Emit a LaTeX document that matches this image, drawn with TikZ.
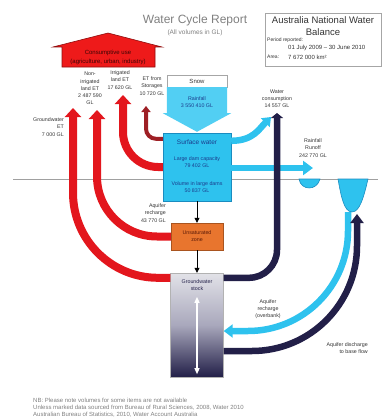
\documentclass[tikz,border=0pt]{standalone}
\usepackage{fontspec}
\setmainfont{Liberation Sans}
\usetikzlibrary{arrows.meta}
\definecolor{ink}{HTML}{333333}
\definecolor{greytxt}{HTML}{808080}
\definecolor{flowred}{HTML}{E3161D}
\definecolor{darkred}{HTML}{9E1F25}
\definecolor{housered}{HTML}{EE1A1A}
\definecolor{housedark}{HTML}{8E0E0E}
\definecolor{housetext}{HTML}{3D0505}
\definecolor{water}{HTML}{2EC2EE}
\definecolor{rainwater}{HTML}{52CFF3}
\definecolor{waterdark}{HTML}{1A8CC0}
\definecolor{wtext}{HTML}{1B3C8C}
\definecolor{navy}{HTML}{221F48}
\definecolor{gwtop}{HTML}{E2E2E8}
\definecolor{gwmid}{HTML}{A9A8BC}
\definecolor{unsat}{HTML}{E8752E}
\definecolor{unsatdark}{HTML}{A9541F}
\definecolor{unsattext}{HTML}{5A1A08}
\definecolor{ground}{HTML}{A0A0A0}

\begin{document}
\begin{tikzpicture}[x=1pt,y=-1pt,
    lbl/.style={font=\fontsize{5.3}{7.2}\selectfont,text=ink,align=center,inner sep=0pt},
    tank/.style={inner sep=0pt,align=center,font=\fontsize{5.3}{7.2}\selectfont},
    redflow/.style={line width=8pt,flowred,-{Triangle[width=16pt,length=9pt]}},
    navyflow/.style={line width=6.5pt,navy},
    waterflow/.style={line width=6.5pt,water},
    drop/.style={thick,black,-{Triangle[width=5pt,length=5pt]}}]
  \useasboundingbox (0,0) rectangle (382,420);

  \node[font=\fontsize{12}{14}\selectfont,text=greytxt] (title) at (195,20) {Water Cycle Report};
  \node[lbl,font=\fontsize{6.5}{8}\selectfont,text=greytxt] (units) at (195,33) {(All volumes in GL)};

  \node[draw=gray!70,line width=0.6pt,minimum width=116pt,minimum height=53pt] (info) at (323,39.5) {};
  \node[lbl,font=\fontsize{9.5}{11.5}\selectfont] (infohead) at (323,26) {Australia National Water\\Balance};
  \node[lbl,anchor=west,font=\fontsize{5}{6}\selectfont] (period) at (267,40) {Period reported:};
  \node[lbl,anchor=west,font=\fontsize{6}{7}\selectfont] (dates) at (288,48) {01 July 2009 -- 30 June 2010};
  \node[lbl,anchor=west,font=\fontsize{5}{6}\selectfont] (area) at (267,57) {Area:};
  \node[lbl,anchor=west,font=\fontsize{6}{7}\selectfont] (areaval) at (288,57) {7 672 000 km²};

  \draw[ground,line width=1pt] (13,179) -- (378,179);

  \filldraw[fill=housered,draw=housedark,line width=0.6pt]
    (53,47) -- (108,33) -- (162,47) -- (155,47) -- (155,67) -- (62,67) -- (62,47) -- cycle;
  \node[lbl,font=\fontsize{6}{8.5}\selectfont,text=housetext] (users) at (108,57.5)
    {Consumptive use\\(agriculture, urban, industry)};

  \node[lbl,anchor=east,align=right] (gwetlbl) at (64,127) {Groundwater\\ET\\7 000 GL};
  \node[lbl] (nonlbl) at (90,88.5) {Non-\\irrigated\\land ET\\2 487 590\\GL};
  \node[lbl] (irrlbl) at (120,80) {Irrigated\\land ET\\17 620 GL};
  \node[lbl] (storlbl) at (152,86) {ET from\\Storages\\10 720 GL};
  \node[lbl] (wclbl) at (277,99) {Water\\consumption\\14 557 GL};
  \node[lbl] (runlbl) at (313,148) {Rainfall\\Runoff\\242 770 GL};
  \node[lbl,anchor=east,align=right] (rechlbl) at (166,213) {Aquifer\\recharge\\43 770 GL};
  \node[lbl] (ovblbl) at (268,309) {Aquifer\\recharge\\(overbank)};
  \node[lbl,anchor=east,align=right] (disclbl) at (368,348) {Aquifer discharge\\to base flow};

  \node[draw=gray!70,fill=white,minimum width=60pt,minimum height=12pt,tank,font=\fontsize{6}{7}\selectfont,text=ink] (snow) at (197,81) {Snow};
  \node[draw=waterdark,fill=water,minimum width=68pt,minimum height=68pt,tank] (sw) at (197,167) {};
  \node[tank,font=\fontsize{6.5}{8}\selectfont,text=wtext] (swname) at (197,142) {Surface water};
  \node[tank,text=wtext] (swcap) at (197,162.5) {Large dam capacity\\79 402 GL};
  \node[tank,text=wtext] (swvol) at (197,187) {Volume in large dams\\50 837 GL};
  \node[draw=unsatdark,fill=unsat,minimum width=52pt,minimum height=27pt,tank,text=unsattext] (uz) at (197,236.5) {Unsaturated\\zone};
  \node[draw=gray!60,top color=gwtop,bottom color=navy,middle color=gwmid,minimum width=53pt,minimum height=104pt] (gw) at (197,325) {};
  \node[tank,text=navy] (gwname) at (197,285) {Groundwater\\stock};

  \fill[rainwater] (snow.south west) -- ([yshift=-26pt]snow.south west) -- ([xshift=-4pt,yshift=-26pt]snow.south west)
    -- ([yshift=1pt]sw.north) -- ([xshift=4pt,yshift=-26pt]snow.south east) -- ([yshift=-26pt]snow.south east)
    -- (snow.south east) -- cycle;
  \node[tank,text=wtext] (rain) at (197,102) {Rainfall\\3 550 410 GL};

  \coordinate (gwettip) at (73,108);
  \coordinate (nontip) at (97,110);
  \coordinate (irrtip) at (123,95);
  \coordinate (stortip) at (146,106);
  \coordinate (wctop) at (277,113);
  \coordinate (wcin) at (271,117);
  \coordinate (runtip) at (313,168);
  \coordinate (basinbot) at (348,212);
  \coordinate (disctip) at (357,214);

  \draw[redflow,rounded corners=85pt] ([yshift=-5pt]gw.north west) -| (gwettip);
  \draw[redflow,rounded corners=60pt] (uz.west) -| (nontip);
  \draw[redflow,rounded corners=35pt] (sw.west) -| (irrtip);
  \draw[line width=4pt,darkred,rounded corners=10pt,-{Triangle[width=9pt,length=6pt]}]
    ([yshift=-6pt]sw.north west) -| (stortip);

  \draw[waterflow,-{Triangle[width=14pt,length=10pt]}] ([yshift=-1pt]sw.east) -- (runtip);
  \draw[waterflow,-{Triangle[width=12pt,length=8pt]}] ([yshift=-8pt]sw.north east) .. controls +(22,0) and +(-12,12) .. (wcin);
  \draw[navyflow,rounded corners=28pt,-{Triangle[width=12pt,length=5pt]}] ([yshift=-5pt]gw.north east) -| (wctop);

  \draw[waterflow,rounded corners=100pt,-{Triangle[width=13pt,length=9pt]}] (basinbot) |- ([yshift=-6pt]gw.east);
  \draw[navyflow,rounded corners=105pt,-{Triangle[width=13pt,length=9pt]}] ([yshift=-26pt]gw.east) -| (disctip);

  \filldraw[fill=water,draw=waterdark,line width=0.6pt] (299,179) .. controls (301,191) and (317,191) .. (320,179) -- cycle;
  \filldraw[fill=water,draw=waterdark,line width=0.6pt] (338,179) .. controls (341,196) and (344,212) .. (352,212)
    .. controls (360,212) and (364,196) .. (368,179) -- cycle;

  \draw[drop] (sw.south) -- (uz.north);
  \draw[drop] (uz.south) -- (gw.north);
  \draw[white,line width=1.2pt,{Triangle[width=5pt,length=6pt]}-{Triangle[width=5pt,length=6pt]}]
    ([yshift=-24pt]gw.north) -- ([yshift=3pt]gw.south);

  \node[lbl,anchor=west,align=left,font=\fontsize{6}{7.2}\selectfont,text=greytxt] (note) at (33,408)
    {NB: Please note volumes for some items are not available\\
     Unless marked data sourced from Bureau of Rural Sciences, 2008, Water 2010\\
     Australian Bureau of Statistics, 2010, Water Account Australia};
\end{tikzpicture}
\end{document}
